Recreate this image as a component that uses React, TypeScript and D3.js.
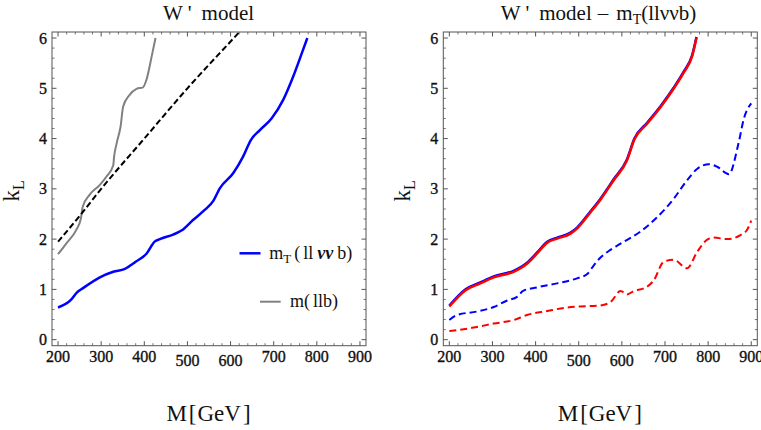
import React from "react";
import * as d3 from "d3";

// ---------- data ----------
const xTicks = [200, 300, 400, 500, 600, 700, 800, 900];
const yTicks = [0, 1, 2, 3, 4, 5, 6];

// left panel
const leftBlueM = [200, 231, 244, 257, 297, 328, 355, 380, 405, 424, 436, 467, 486, 513, 540, 560, 575, 606, 629, 647, 668, 695, 722, 745, 764, 778];
const leftBlueK = [0.64, 0.8, 0.94, 1.02, 1.24, 1.35, 1.41, 1.55, 1.71, 1.95, 2.0, 2.09, 2.17, 2.38, 2.58, 2.76, 3.01, 3.31, 3.64, 3.97, 4.17, 4.4, 4.77, 5.23, 5.67, 6.0];
const leftGrayM = [200, 219, 242, 253, 257, 273, 297, 312, 328, 330, 336, 345, 351, 366, 382, 397, 405, 417, 426];
const leftGrayK = [1.7, 1.91, 2.18, 2.41, 2.64, 2.88, 3.08, 3.24, 3.47, 3.64, 3.91, 4.24, 4.64, 4.87, 4.99, 5.02, 5.17, 5.63, 6.0];
const leftBlackM = [200, 250, 300, 400, 500, 600, 640];
const leftBlackK = [1.95, 2.46, 3.0, 4.0, 5.0, 5.93, 6.3];

// right panel
const rightRedM = [200, 237, 272, 303, 349, 380, 403, 427, 450, 481, 496, 527, 550, 581, 612, 629, 659, 690, 720, 744, 763, 773];
const rightRedK = [0.66, 0.98, 1.12, 1.24, 1.35, 1.51, 1.71, 1.93, 2.01, 2.11, 2.21, 2.53, 2.78, 3.17, 3.57, 3.98, 4.3, 4.63, 4.99, 5.32, 5.64, 6.0];
const rightBlueK = [0.68, 1.0, 1.14, 1.26, 1.37, 1.53, 1.73, 1.95, 2.03, 2.13, 2.23, 2.55, 2.8, 3.19, 3.59, 4.0, 4.32, 4.65, 5.01, 5.34, 5.66, 6.02];
const rightBlueDashM = [200, 218, 264, 303, 334, 357, 371, 403, 450, 496, 519, 535, 550, 574, 597, 643, 681, 720, 751, 775, 802, 821, 848, 871, 883, 900];
const rightBlueDashK = [0.39, 0.49, 0.56, 0.65, 0.78, 0.85, 0.97, 1.04, 1.12, 1.22, 1.3, 1.48, 1.63, 1.79, 1.91, 2.15, 2.43, 2.8, 3.17, 3.4, 3.49, 3.44, 3.29, 3.93, 4.4, 4.7];
const rightRedDashM = [200, 256, 303, 349, 380, 427, 473, 504, 550, 574, 597, 612, 628, 651, 674, 697, 720, 751, 775, 798, 813, 844, 875, 890, 900];
const rightRedDashK = [0.17, 0.24, 0.32, 0.39, 0.49, 0.57, 0.64, 0.66, 0.68, 0.75, 0.97, 0.9, 0.97, 1.02, 1.18, 1.55, 1.59, 1.42, 1.75, 1.99, 2.03, 2.0, 2.08, 2.18, 2.37];

// ---------- layout ----------
const W = 761;
const H = 430;
const plotTop = 32;
const plotBottom = 345.7;
const plotW = 314;
const FONT = "'Liberation Serif', 'Times New Roman', serif";

type Series = { m: number[]; k: number[]; color: string; width: number; dash?: string };

function zip(m: number[], k: number[]): [number, number][] {
  return m.map((v, i) => [v, k[i]]);
}

function Panel({ x0, id, series, children }: { x0: number; id: string; series: Series[]; children?: React.ReactNode }) {
  const x = d3.scaleLinear().domain([186, 914]).range([x0, x0 + plotW]);
  const y = d3.scaleLinear().domain([-0.12, 6.12]).range([plotBottom, plotTop]);
  const line = d3
    .line<[number, number]>()
    .x((d) => x(d[0]))
    .y((d) => y(d[1]))
    .curve(d3.curveMonotoneX);
  const minorX = d3.range(200, 901, 20).filter((v) => v % 100 !== 0);
  const minorY = d3.range(0, 6.01, 0.2).filter((v) => Math.abs(v - Math.round(v)) > 1e-6);
  const frame = "#555";
  const majL = 4.5;
  const minL = 2.5;
  return (
    <g>
      <defs>
        <clipPath id={id}>
          <rect x={x0} y={plotTop} width={plotW} height={plotBottom - plotTop} />
        </clipPath>
      </defs>
      <g clipPath={`url(#${id})`}>
        {series.map((s, i) => (
          <path key={i} d={line(zip(s.m, s.k)) || ""} fill="none" stroke={s.color} strokeWidth={s.width} strokeDasharray={s.dash} strokeLinejoin="round" />
        ))}
      </g>
      {/* ticks */}
      {xTicks.map((t) => (
        <g key={"xt" + t} stroke={frame} strokeWidth={1}>
          <line x1={x(t)} x2={x(t)} y1={plotBottom} y2={plotBottom - majL} />
          <line x1={x(t)} x2={x(t)} y1={plotTop} y2={plotTop + majL} />
        </g>
      ))}
      {minorX.map((t) => (
        <g key={"xm" + t} stroke={frame} strokeWidth={0.8}>
          <line x1={x(t)} x2={x(t)} y1={plotBottom} y2={plotBottom - minL} />
          <line x1={x(t)} x2={x(t)} y1={plotTop} y2={plotTop + minL} />
        </g>
      ))}
      {yTicks.map((t) => (
        <g key={"yt" + t} stroke={frame} strokeWidth={1}>
          <line x1={x0} x2={x0 + majL} y1={y(t)} y2={y(t)} />
          <line x1={x0 + plotW} x2={x0 + plotW - majL} y1={y(t)} y2={y(t)} />
        </g>
      ))}
      {minorY.map((t) => (
        <g key={"ym" + t} stroke={frame} strokeWidth={0.8}>
          <line x1={x0} x2={x0 + minL} y1={y(t)} y2={y(t)} />
          <line x1={x0 + plotW} x2={x0 + plotW - minL} y1={y(t)} y2={y(t)} />
        </g>
      ))}
      <rect x={x0} y={plotTop} width={plotW} height={plotBottom - plotTop} fill="none" stroke={frame} strokeWidth={1} />
      {/* tick labels */}
      {xTicks.map((t) => (
        <text key={"xl" + t} x={x(t)} y={t === 500 || t === 600 ? 366 : 361.5} textAnchor="middle" fontSize={16} fill="#111" stroke="#111" strokeWidth={0.35} fontFamily={FONT}>
          {t}
        </text>
      ))}
      {yTicks.map((t) => (
        <text key={"yl" + t} x={x0 - 5} y={y(t) + 5.5} textAnchor="end" fontSize={16} fill="#111" stroke="#111" strokeWidth={0.35} fontFamily={FONT}>
          {t}
        </text>
      ))}
      {/* axis labels */}
      <text x={x0 + 156.5} y={421} textAnchor="middle" fontSize={23} fill="#111" fontFamily={FONT}>
        M<tspan dx={2}>[</tspan>
        <tspan dx={1}>GeV</tspan>
        <tspan dx={2}>]</tspan>
      </text>
      <text transform={`translate(${x0 - 33},${(plotTop + plotBottom) / 2 + 2}) rotate(-90)`} textAnchor="middle" fontSize={23} fill="#111" fontFamily={FONT}>
        k
        <tspan fontSize={16} dy={5}>L</tspan>
      </text>
      {children}
    </g>
  );
}

export default function App() {
  const leftSeries: Series[] = [
    { m: leftGrayM, k: leftGrayK, color: "#808080", width: 2 },
    { m: leftBlackM, k: leftBlackK, color: "#000", width: 2, dash: "6,3" },
    { m: leftBlueM, k: leftBlueK, color: "#0000ff", width: 2.5 },
  ];
  const rightSeries: Series[] = [
    { m: rightRedDashM, k: rightRedDashK, color: "#ff0000", width: 2, dash: "7,4" },
    { m: rightBlueDashM, k: rightBlueDashK, color: "#0000ff", width: 2, dash: "7,4" },
    { m: rightRedM, k: rightBlueK, color: "#0000ff", width: 2.5 },
    { m: rightRedM, k: rightRedK, color: "#ff0000", width: 2.5 },
  ];
  return (
    <svg width={W} height={H} style={{ position: "absolute", left: 0, top: 0, background: "#fff" }}>
      <rect x={0} y={0} width={W} height={H} fill="#fff" />
      <Panel x0={52} id="clipL" series={leftSeries}>
        <text x={208.5} y={20} textAnchor="middle" fontSize={21} fill="#111" fontFamily={FONT}>
          W<tspan dx={5}>'</tspan>
          <tspan dx={10}>model</tspan>
        </text>
        <line x1={239.5} x2={260.5} y1={253.3} y2={253.3} stroke="#0000ff" strokeWidth={2.5} />
        <text x={269.3} y={258.5} fontSize={18} fill="#111" fontFamily={FONT}>
          m<tspan fontSize={13} dy={4}>T</tspan>
          <tspan dy={-4} dx={3}>(</tspan>
          <tspan dx={3}>ll</tspan>
          <tspan dx={4} fontStyle="italic" fontWeight="bold">νν</tspan>
          <tspan dx={4}>b)</tspan>
        </text>
        <line x1={260} x2={280.7} y1={301.7} y2={301.7} stroke="#808080" strokeWidth={2} />
        <text x={290} y={306.5} fontSize={18} fill="#111" fontFamily={FONT}>
          m(<tspan dx={3}>llb)</tspan>
        </text>
      </Panel>
      <Panel x0={443.3} id="clipR" series={rightSeries}>
        <text x={598.5} y={20} textAnchor="middle" fontSize={21} fill="#111" fontFamily={FONT}>
          W<tspan dx={5}>'</tspan>
          <tspan dx={10}>model</tspan>
          <tspan dx={6}>–</tspan>
          <tspan dx={8}>m</tspan>
          <tspan fontSize={14} dy={4}>T</tspan>
          <tspan dy={-4}>(llννb)</tspan>
        </text>
      </Panel>
    </svg>
  );
}
